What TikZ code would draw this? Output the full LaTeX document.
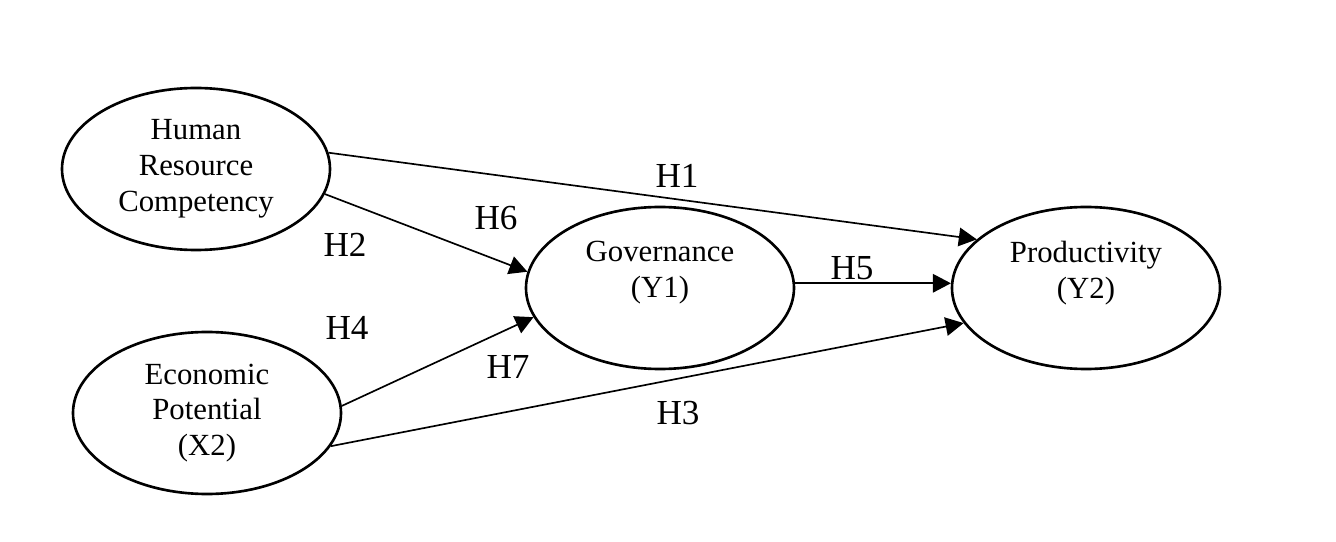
\documentclass[tikz,border=0pt]{standalone}
\usepackage{fontspec}
\setmainfont{Liberation Serif}
\usetikzlibrary{arrows.meta, calc, positioning, shapes.geometric}

\begin{document}
\begin{tikzpicture}[
        latent/.style={ellipse, draw, line width=1.5pt, inner sep=0pt, align=center,
            minimum width=5.36cm, minimum height=3.24cm, font=\fontsize{17.5}{20.4}\selectfont},
        hyp/.style={inner sep=0pt, font=\fontsize{20}{23}\selectfont},
        arrow/.style={line width=0.95pt, -{Triangle[length=3.6mm, width=3.7mm]}}
    ]

    \useasboundingbox (0,0) rectangle (26.72,10.82);

    \node[latent] (hrc) at (3.92,7.44) {Human\\Resource\\Competency};
    \node[latent] (ep) at (4.14,2.56) {Economic\\Potential\\(X2)};
    \node[latent, label={[align=center, yshift=0.3cm, font=\fontsize{17.5}{20.4}\selectfont]center:Governance\\(Y1)}] (gov) at (13.2,5.06) {};
    \node[latent, label={[align=center, yshift=0.3cm, font=\fontsize{17.5}{20.4}\selectfont]center:Productivity\\(Y2)}] (prod) at (21.72,5.06) {};

    % Arrows
    \draw[arrow] (hrc.7) -- (prod.156);
    \draw[arrow] (hrc.-11) -- (gov.173);
    \draw[arrow] (ep.3) -- (gov.-167);
    \draw[arrow] (ep.-15) -- (prod.-164);
    \draw[arrow] (gov.2) -- (prod.178);

    % Hypotheses
    \node[hyp] (h1) at (13.54,7.30) {H1};
    \node[hyp] (h6) at (9.92,6.46) {H6};
    \node[hyp] (h2) at (6.90,5.92) {H2};
    \node[hyp] (h5) at (17.04,5.46) {H5};
    \node[hyp] (h4) at (6.94,4.26) {H4};
    \node[hyp] (h7) at (10.16,3.48) {H7};
    \node[hyp] (h3) at (13.56,2.56) {H3};

\end{tikzpicture}
\end{document}
